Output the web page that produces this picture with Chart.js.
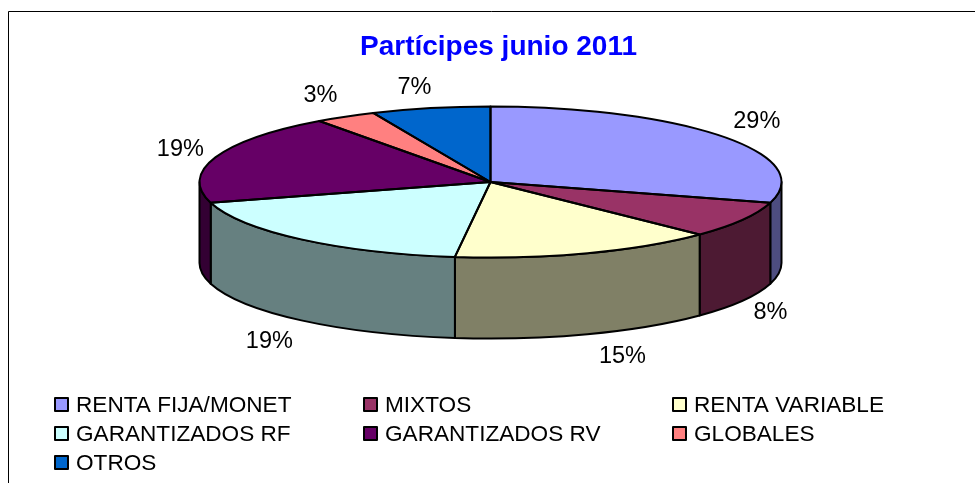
<!DOCTYPE html>
<html>
<head>
<meta charset="utf-8">
<title>Partícipes junio 2011</title>
<script src="https://cdn.jsdelivr.net/npm/chart.js@4"></script>
<style>
    html, body { margin: 0; padding: 0; background: #fff; overflow: hidden; }
    #chartBox { position: absolute; left: 0; top: 0; width: 975px; height: 483px; }
</style>
</head>
<body>
<div id="chartBox"><canvas id="myChart" width="975" height="483"></canvas></div>
<script>
const categories = ['RENTA FIJA/MONET', 'MIXTOS', 'RENTA VARIABLE', 'GARANTIZADOS RF', 'GARANTIZADOS RV', 'GLOBALES', 'OTROS'];
const values = [29.4, 7.8, 14.7, 18.6, 19.4, 3.4, 6.6];
const topColors = ['#9999FF', '#993366', '#FFFFCC', '#CCFFFF', '#660066', '#FF8080', '#0066CC'];
const sideColors = ['#4D4D80', '#4D1A33', '#808066', '#668080', '#330033', '#804040', '#003366'];

// where each percent label sits relative to the rim of its slice
const labelOffsets = [[34, -15], [28, 12], [35, 22], [-32, 21], [-35, -8], [-25, -21], [-16, -21]];

// pie drawn as a tilted disc
const pieX = 490.5, pieY = 182, radiusX = 291, radiusY = 75.5, depth = 81;
const lineW = 2;
const fontName = '"Liberation Sans", Arial, sans-serif';

const total = values.reduce((a, b) => a + b, 0);

const tiltedPie = {
    id: 'tiltedPie',
    beforeDraw(chart) {
        const ctx = chart.ctx;
        ctx.save();
        ctx.strokeStyle = '#000';
        ctx.lineWidth = 1;
        ctx.beginPath();
        ctx.moveTo(8.5, 483);
        ctx.lineTo(8.5, 11.5);
        ctx.lineTo(975, 11.5);
        ctx.stroke();
        ctx.restore();
    },
    beforeDatasetsDraw(chart) {
        const ctx = chart.ctx;
        const arcs = chart.getDatasetMeta(0).data;
        ctx.save();
        ctx.lineWidth = lineW;
        ctx.strokeStyle = '#000';
        ctx.lineJoin = 'round';
        arcs.forEach((arc, i) => {
            const s = Math.max(arc.startAngle, 0);
            const e = Math.min(arc.endAngle, Math.PI);
            if (e <= s) return;
            ctx.beginPath();
            ctx.ellipse(pieX, pieY, radiusX, radiusY, 0, s, e);
            ctx.ellipse(pieX, pieY + depth, radiusX, radiusY, 0, e, s, true);
            ctx.closePath();
            ctx.fillStyle = sideColors[i];
            ctx.fill();
            ctx.stroke();
        });
        ctx.restore();
    },
    beforeDatasetDraw(chart) {
        const ctx = chart.ctx;
        const first = chart.getDatasetMeta(0).data[0];
        ctx.save();
        ctx.translate(pieX, pieY);
        ctx.scale(radiusX / first.outerRadius, radiusY / first.outerRadius);
        ctx.translate(-first.x, -first.y);
    },
    afterDatasetDraw(chart) {
        chart.ctx.restore();
    },
    afterDatasetsDraw(chart) {
        const ctx = chart.ctx;
        const arcs = chart.getDatasetMeta(0).data;
        ctx.save();
        ctx.lineWidth = lineW;
        ctx.strokeStyle = '#000';
        ctx.lineJoin = 'round';
        arcs.forEach(arc => {
            ctx.beginPath();
            ctx.moveTo(pieX, pieY);
            ctx.ellipse(pieX, pieY, radiusX, radiusY, 0, arc.startAngle, arc.endAngle);
            ctx.closePath();
            ctx.stroke();
        });

        // percent labels
        ctx.fillStyle = '#000';
        ctx.font = '23.5px ' + fontName;
        ctx.textAlign = 'center';
        ctx.textBaseline = 'middle';
        arcs.forEach((arc, i) => {
            const mid = (arc.startAngle + arc.endAngle) / 2;
            const x = pieX + radiusX * Math.cos(mid);
            let y = pieY + radiusY * Math.sin(mid);
            if (Math.sin(mid) > 0) y += depth;
            const pct = Math.round(values[i] / total * 100) + '%';
            ctx.fillText(pct, x + labelOffsets[i][0], y + labelOffsets[i][1]);
        });

        // legend, three columns like the original
        const colX = [55, 364, 673];
        const rowY = [404.5, 433.5, 462.5];
        ctx.font = '22.6px ' + fontName;
        ctx.textAlign = 'left';
        categories.forEach((name, i) => {
            const x = colX[i % 3];
            const y = rowY[Math.floor(i / 3)];
            ctx.fillStyle = topColors[i];
            ctx.fillRect(x, y - 6.5, 13, 13);
            ctx.lineWidth = 2;
            ctx.strokeRect(x, y - 6.5, 13, 13);
            ctx.fillStyle = '#000';
            ctx.fillText(name, x + 21, y + 1);
        });
        ctx.restore();
    }
};

new Chart(document.getElementById('myChart').getContext('2d'), {
    type: 'pie',
    data: {
        labels: categories,
        datasets: [{
            data: values,
            backgroundColor: topColors,
            borderWidth: 0,
            clip: false
        }]
    },
    options: {
        responsive: false,
        animation: false,
        layout: { padding: { left: 22 } },
        plugins: {
            legend: { display: false },
            tooltip: { enabled: false },
            title: {
                display: true,
                text: 'Partícipes junio 2011',
                color: '#0000FF',
                font: { family: fontName, size: 28, weight: 'bold', lineHeight: 1.2 },
                padding: { top: 30, bottom: 10 }
            }
        }
    },
    plugins: [tiltedPie]
});
</script>
</body>
</html>
